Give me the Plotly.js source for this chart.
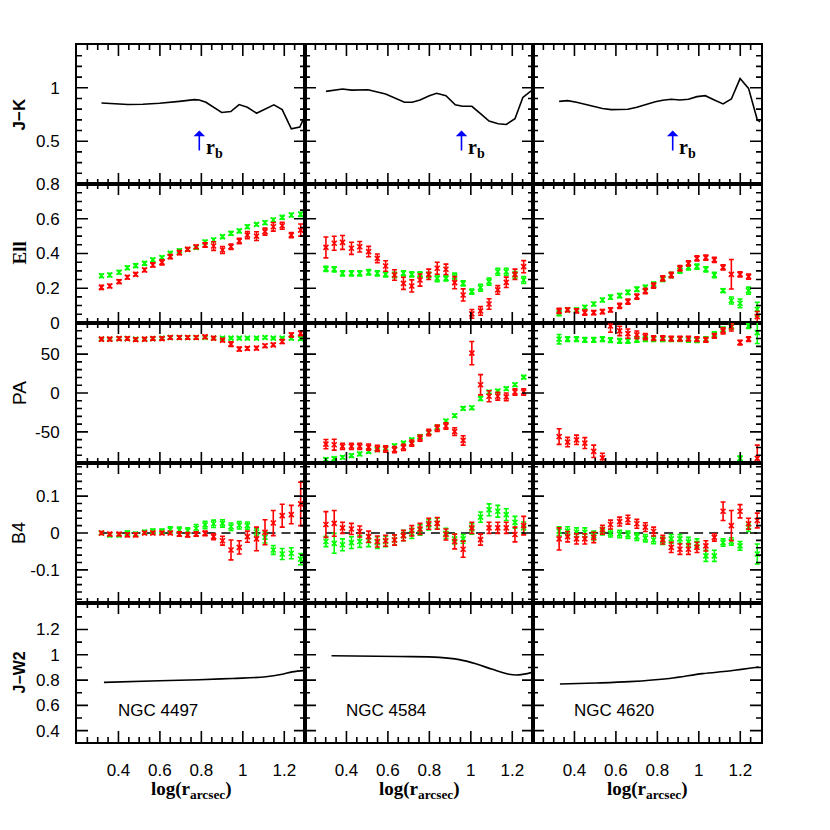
<!DOCTYPE html>
<html>
<head>
<meta charset="utf-8">
<script src="https://cdn.plot.ly/plotly-3.0.1.min.js"></script>
<style>
  body { margin: 0; background: #fff; }
  #chart { width: 830px; height: 830px; }
</style>
</head>
<body>
<div id="chart"></div>
<script>
// ---- labels ----
const rowTitles = ['J\u2212K', 'Ell', 'PA', 'B4', 'J\u2212W2'];
const galaxies = ['NGC 4497', 'NGC 4584', 'NGC 4620'];
const rbPos = [0.79, 0.955, 0.874];            // break radius, log(r)
const xTickVals = [0.4, 0.6, 0.8, 1, 1.2];
const xTickText = ['0.4', '0.6', '0.8', '1', '1.2'];
const yTickVals = [[0.5, 1], [0, 0.2, 0.4, 0.6, 0.8], [-50, 0, 50], [-0.1, 0, 0.1], [0.4, 0.6, 0.8, 1, 1.2]];
const yTickText = [['0.5', '1'], ['0', '0.2', '0.4', '0.6', '0.8'], ['-50', '0', '50'], ['-0.1', '0', '0.1'], ['0.4', '0.6', '0.8', '1', '1.2']];

// ---- isophote radii, log(r) ----
const xL = [0.318, 0.358, 0.403, 0.443, 0.483, 0.526, 0.566, 0.610, 0.650, 0.694, 0.734, 0.775, 0.818, 0.859, 0.902, 0.943, 0.983, 1.022, 1.066, 1.107, 1.147, 1.190, 1.234, 1.279];
const xM = [0.301, 0.341, 0.381, 0.424, 0.464, 0.507, 0.549, 0.589, 0.632, 0.675, 0.715, 0.755, 0.797, 0.838, 0.880, 0.922, 0.963, 1.005, 1.047, 1.088, 1.130, 1.171, 1.213, 1.255];
const xR = [0.326, 0.367, 0.410, 0.450, 0.493, 0.535, 0.574, 0.618, 0.658, 0.701, 0.742, 0.782, 0.826, 0.867, 0.909, 0.950, 0.991, 1.034, 1.075, 1.117, 1.157, 1.199, 1.240, 1.282];

// ---- J-K colour profiles ----
const jkXL = [0.318, 0.358, 0.446, 0.518, 0.598, 0.694, 0.766, 0.790, 0.822, 0.898, 0.942, 0.982, 1.022, 1.066, 1.150, 1.190, 1.234, 1.275, 1.298];
const jkL = [0.858, 0.855, 0.843, 0.846, 0.855, 0.873, 0.889, 0.886, 0.864, 0.769, 0.778, 0.843, 0.818, 0.762, 0.840, 0.796, 0.617, 0.633, 0.731];
const jkXM = [0.301, 0.381, 0.424, 0.504, 0.589, 0.640, 0.680, 0.717, 0.755, 0.800, 0.835, 0.880, 0.925, 0.960, 1.005, 1.048, 1.088, 1.132, 1.171, 1.213, 1.251, 1.291];
const jkM = [0.966, 0.988, 0.978, 0.981, 0.941, 0.901, 0.864, 0.864, 0.886, 0.926, 0.948, 0.926, 0.840, 0.827, 0.827, 0.756, 0.688, 0.664, 0.657, 0.710, 0.910, 0.972];
const jkXR = [0.326, 0.367, 0.410, 0.493, 0.535, 0.578, 0.658, 0.701, 0.742, 0.790, 0.826, 0.867, 0.909, 0.950, 0.991, 1.031, 1.075, 1.117, 1.157, 1.199, 1.240, 1.282, 1.295];
const jkR = [0.873, 0.880, 0.864, 0.827, 0.806, 0.796, 0.799, 0.818, 0.843, 0.870, 0.883, 0.892, 0.886, 0.892, 0.917, 0.926, 0.886, 0.849, 0.895, 1.086, 0.994, 0.701, 0.680];

// ---- ellipticity (green / red) ----
const ellGL = [0.272, 0.276, 0.292, 0.318, 0.330, 0.343, 0.363, 0.376, 0.401, 0.416, 0.424, 0.435, 0.466, 0.478, 0.497, 0.516, 0.530, 0.554, 0.568, 0.577, 0.593, 0.608, 0.622, 0.626];
const ellGLe = [0.01, 0.01, 0.01, 0.01, 0.01, 0.01, 0.01, 0.01, 0.01, 0.01, 0.008, 0.01, 0.01, 0.01, 0.01, 0.01, 0.01, 0.01, 0.008, 0.01, 0.01, 0.01, 0.01, 0.012];
const ellRL = [0.205, 0.213, 0.238, 0.263, 0.280, 0.305, 0.334, 0.349, 0.382, 0.405, 0.424, 0.439, 0.449, 0.443, 0.420, 0.439, 0.472, 0.506, 0.500, 0.526, 0.554, 0.560, 0.506, 0.535];
const ellRLe = [0.012, 0.01, 0.01, 0.01, 0.01, 0.01, 0.012, 0.015, 0.012, 0.012, 0.01, 0.01, 0.012, 0.025, 0.02, 0.015, 0.015, 0.02, 0.025, 0.02, 0.025, 0.02, 0.015, 0.035];
const ellGM = [0.311, 0.309, 0.286, 0.286, 0.286, 0.292, 0.286, 0.280, 0.276, 0.286, 0.280, 0.280, 0.276, 0.257, 0.257, 0.267, 0.228, 0.180, 0.203, 0.238, 0.295, 0.295, 0.276, 0.247];
const ellGMe = [0.015, 0.015, 0.015, 0.015, 0.015, 0.015, 0.015, 0.015, 0.015, 0.015, 0.015, 0.015, 0.015, 0.02, 0.015, 0.02, 0.015, 0.015, 0.02, 0.02, 0.02, 0.02, 0.02, 0.02];
const ellRM = [0.435, 0.459, 0.464, 0.430, 0.439, 0.411, 0.372, 0.328, 0.276, 0.228, 0.213, 0.247, 0.280, 0.315, 0.309, 0.232, 0.161, 0.052, 0.069, 0.109, 0.190, 0.234, 0.280, 0.324];
const ellRMe = [0.06, 0.04, 0.04, 0.035, 0.03, 0.03, 0.025, 0.03, 0.03, 0.035, 0.035, 0.035, 0.03, 0.035, 0.03, 0.035, 0.035, 0.025, 0.025, 0.03, 0.025, 0.03, 0.03, 0.035];
const ellGR = [0.056, 0.075, 0.075, 0.090, 0.109, 0.132, 0.148, 0.157, 0.176, 0.194, 0.205, 0.224, 0.251, 0.276, 0.301, 0.320, 0.324, 0.309, 0.276, 0.186, 0.129, 0.113, 0.186, 0.079];
const ellGRe = [0.015, 0.01, 0.01, 0.01, 0.01, 0.01, 0.012, 0.012, 0.012, 0.012, 0.012, 0.012, 0.012, 0.015, 0.015, 0.015, 0.015, 0.015, 0.015, 0.01, 0.02, 0.025, 0.02, 0.04];
const ellRR = [0.069, 0.075, 0.069, 0.059, 0.059, 0.065, 0.075, 0.098, 0.123, 0.152, 0.184, 0.215, 0.257, 0.276, 0.315, 0.343, 0.372, 0.376, 0.363, 0.320, 0.280, 0.280, 0.267, 0.036];
const ellRRe = [0.015, 0.01, 0.012, 0.015, 0.012, 0.012, 0.012, 0.015, 0.015, 0.015, 0.015, 0.015, 0.015, 0.015, 0.015, 0.015, 0.015, 0.015, 0.015, 0.015, 0.085, 0.015, 0.015, 0.03];

// ---- position angle ----
const paGL = [69.2, 69.2, 70.0, 70.0, 69.2, 69.2, 70.0, 70.5, 71.3, 71.3, 71.3, 71.3, 71.3, 70.5, 70.5, 70.5, 70.5, 70.5, 70.5, 71.3, 70.5, 70.5, 70.5, 70.0];
const paGLe = [1.5, 1.5, 1.5, 1.5, 1.5, 1.5, 1.5, 1.5, 1.5, 1.5, 1.5, 1.5, 1.5, 1.5, 1.5, 1.5, 1.5, 1.5, 1.5, 1.5, 1.5, 1.5, 2, 2];
const paRL = [69.2, 69.2, 70.0, 70.0, 68.7, 69.2, 70.0, 70.0, 71.3, 71.3, 71.3, 71.3, 72.1, 70.5, 67.9, 62.8, 56.5, 57.3, 57.7, 60.7, 61.9, 66.2, 74.7, 76.8];
const paRLe = [2, 2, 2, 2, 2, 2, 2, 2, 2, 2, 2, 2, 2, 2, 2, 3, 2.5, 2, 2, 2, 2, 2.5, 2.5, 3];
const paGM = [-85.6, -84.3, -82.6, -80.5, -78.4, -75.0, -72.9, -70.8, -67.8, -64.4, -60.2, -56.0, -50.8, -44.0, -36.0, -29.2, -19.8, -19.0, -7.1, 1.3, 2.5, 5.5, 10.6, 20.4];
const paGMe = [2, 2, 2, 2, 2, 2, 2, 2, 2, 2, 2, 2, 2, 2.5, 2, 2, 2, 2, 2.5, 2, 2, 2, 2, 2];
const paRM = [-65.7, -66.5, -68.6, -68.6, -68.6, -69.5, -71.2, -72.0, -72.9, -69.9, -64.4, -58.0, -50.8, -45.3, -42.4, -49.6, -61.0, 51.3, 10.6, -4.2, -4.2, -5.0, 1.3, 1.3];
const paRMe = [6, 7, 4, 4, 4, 4, 4, 4, 4, 4, 4, 4, 4, 4, 4, 5, 6, 15, 13, 7, 5, 5, 4, 4];
const paGR = [69.2, 69.2, 69.2, 68.3, 68.3, 69.2, 67.9, 67.1, 67.1, 68.3, 69.2, 69.2, 69.2, 69.2, 69.2, 68.3, 67.9, 69.2, 75.6, 81.9, 86.1, -84.0, 86.1, 77.6];
const paGRe = [6, 3, 3, 3, 3, 3, 3, 3, 3, 3, 3, 3, 3, 3, 3, 3, 3, 3, 3, 3, 4, 3, 3, 14];
const paRR = [-56.0, -63.1, -60.2, -64.4, -75.0, -83.5, 86.1, 79.8, 76.3, 74.7, 72.5, 70.5, 70.5, 70.0, 70.0, 70.0, 69.2, 68.3, 73.4, 79.8, 84.8, 64.9, 69.2, -84.0];
const paRRe = [10, 6, 6, 7, 8, 6, 8, 6, 6, 5, 4, 3, 3, 3, 3, 3, 3, 3, 3, 4, 5, 3, 3, 17];

// ---- B4 isophote shape ----
const b4GL = [0.000, -0.005, -0.005, 0.000, -0.003, 0.002, 0.005, 0.005, 0.009, 0.008, 0.006, 0.013, 0.022, 0.025, 0.026, 0.017, 0.021, 0.020, 0.002, -0.012, -0.046, -0.057, -0.055, -0.071];
const b4GLe = [0.004, 0.005, 0.005, 0.005, 0.005, 0.005, 0.006, 0.006, 0.008, 0.008, 0.008, 0.01, 0.01, 0.01, 0.01, 0.01, 0.01, 0.01, 0.01, 0.015, 0.012, 0.015, 0.015, 0.015];
const b4RL = [0.000, -0.003, -0.003, -0.005, -0.005, 0.000, 0.000, 0.000, 0.000, -0.003, -0.005, -0.003, -0.001, -0.010, -0.021, -0.046, -0.039, -0.010, -0.016, 0.002, 0.027, 0.047, 0.050, 0.079];
const b4RLe = [0.004, 0.004, 0.004, 0.005, 0.005, 0.004, 0.004, 0.004, 0.004, 0.006, 0.006, 0.006, 0.006, 0.008, 0.012, 0.027, 0.018, 0.015, 0.032, 0.034, 0.034, 0.031, 0.025, 0.059];
const b4GM = [-0.023, -0.028, -0.032, -0.026, -0.023, -0.021, -0.026, -0.023, -0.019, -0.007, -0.001, 0.008, 0.022, 0.026, -0.001, -0.016, -0.016, 0.011, 0.043, 0.063, 0.059, 0.050, 0.029, 0.014];
const b4GMe = [0.014, 0.027, 0.016, 0.016, 0.016, 0.016, 0.016, 0.014, 0.014, 0.014, 0.014, 0.014, 0.014, 0.014, 0.014, 0.014, 0.012, 0.014, 0.014, 0.016, 0.016, 0.016, 0.016, 0.016];
const b4RM = [0.023, 0.026, 0.014, 0.011, 0.004, -0.010, -0.023, -0.021, -0.019, -0.007, 0.006, 0.011, 0.025, 0.026, -0.004, -0.023, -0.044, 0.014, -0.018, 0.014, 0.014, 0.014, -0.004, 0.020];
const b4RMe = [0.035, 0.035, 0.015, 0.015, 0.015, 0.015, 0.015, 0.015, 0.014, 0.014, 0.014, 0.015, 0.015, 0.016, 0.015, 0.02, 0.022, 0.015, 0.015, 0.015, 0.015, 0.015, 0.02, 0.025];
const b4GR = [0.005, 0.005, 0.002, 0.002, -0.007, 0.005, -0.001, -0.003, -0.005, -0.010, -0.014, -0.019, -0.021, -0.016, -0.016, -0.024, -0.028, -0.062, -0.062, -0.026, -0.023, -0.035, 0.016, -0.057];
const b4GRe = [0.012, 0.012, 0.012, 0.012, 0.012, 0.01, 0.01, 0.01, 0.01, 0.01, 0.01, 0.01, 0.01, 0.012, 0.012, 0.012, 0.012, 0.015, 0.015, 0.01, 0.01, 0.012, 0.012, 0.027];
const b4RR = [-0.016, -0.010, -0.016, -0.016, -0.012, 0.009, 0.023, 0.031, 0.036, 0.025, 0.016, 0.004, -0.018, -0.039, -0.044, -0.044, -0.039, -0.035, -0.012, 0.059, 0.020, 0.059, 0.025, 0.034];
const b4RRe = [0.030, 0.014, 0.014, 0.014, 0.014, 0.012, 0.012, 0.012, 0.012, 0.012, 0.012, 0.012, 0.012, 0.014, 0.014, 0.014, 0.014, 0.014, 0.01, 0.025, 0.041, 0.018, 0.015, 0.02];

// ---- J-W2 colour profiles ----
const jwXL = [0.330, 0.598, 0.790, 0.950, 1.111, 1.190, 1.238, 1.298];
const jwL = [0.782, 0.795, 0.803, 0.813, 0.826, 0.846, 0.865, 0.877];
const jwXM = [0.328, 0.656, 0.848, 0.944, 1.024, 1.104, 1.184, 1.232, 1.291];
const jwM = [0.992, 0.987, 0.980, 0.962, 0.929, 0.885, 0.846, 0.841, 0.859];
const jwXR = [0.330, 0.506, 0.666, 0.858, 1.018, 1.146, 1.290];
const jwR = [0.769, 0.777, 0.788, 0.813, 0.851, 0.872, 0.903];

// ---- geometry (px in the 830x830 page) ----
const W = 830, H = 830;
const colPx = [[77, 305], [305, 533], [533, 761]];
const rowPx = [[45, 184], [184, 323], [323, 463], [463, 603], [603, 742]];
const xRange = [0.2, 1.3];
const xMinor = 0.05;
const yRanges = [[0.1, 1.4], [-0.0005, 0.8005], [-90, 90], [-0.19, 0.19], [0.31, 1.41]];
const yMinor = [0.1, 0.05, 10, 0.02, 0.1];
const MAJOR_LEN = 11, MINOR_LEN = 5;
const RED = '#ff0000', GREEN = '#00ff00';

const sfx = (r, c) => { const n = r * 3 + c + 1; return n === 1 ? '' : String(n); };

function line(x, y, r, c, shape) {
  return {
    type: 'scatter', mode: 'lines', x, y, xaxis: 'x' + sfx(r, c), yaxis: 'y' + sfx(r, c),
    line: { color: 'black', width: 1.6, shape: shape || 'linear' },
    hoverinfo: 'skip', showlegend: false
  };
}

function pts(x, y, err, color, r, c) {
  return {
    type: 'scatter', mode: 'markers', x, y, xaxis: 'x' + sfx(r, c), yaxis: 'y' + sfx(r, c),
    marker: { symbol: 'x-thin', size: 5, color, line: { color, width: 1.6 } },
    error_y: { type: 'data', array: err, visible: true, color, thickness: 1.6, width: 2.5 },
    cliponaxis: true, hoverinfo: 'skip', showlegend: false
  };
}

function zeroLine(x, r, c) {
  return {
    type: 'scatter', mode: 'lines', x: [x[0], x[x.length - 1]], y: [0, 0],
    xaxis: 'x' + sfx(r, c), yaxis: 'y' + sfx(r, c),
    line: { color: 'black', width: 1.5, dash: '9px,6px' },
    hoverinfo: 'skip', showlegend: false
  };
}

// inside tick marks on all four sides of a panel, as one path shape in axis units
function tickShape(r, c) {
  const yr = yRanges[r];
  const xPerPx = (xRange[1] - xRange[0]) / (colPx[c][1] - colPx[c][0]);
  const yPerPx = (yr[1] - yr[0]) / (rowPx[r][1] - rowPx[r][0]);
  const parts = [];
  const inside = (v, lo, hi, tol) => v > lo + tol && v < hi - tol;
  const near = (v, list, tol) => list.some(m => Math.abs(m - v) < tol);
  const addX = (v, len) => {
    parts.push('M' + v + ',' + yr[0] + 'L' + v + ',' + (yr[0] + len * yPerPx));
    parts.push('M' + v + ',' + yr[1] + 'L' + v + ',' + (yr[1] - len * yPerPx));
  };
  const addY = (v, len) => {
    parts.push('M' + xRange[0] + ',' + v + 'L' + (xRange[0] + len * xPerPx) + ',' + v);
    parts.push('M' + xRange[1] + ',' + v + 'L' + (xRange[1] - len * xPerPx) + ',' + v);
  };
  xTickVals.forEach(v => { if (inside(v, xRange[0], xRange[1], xPerPx)) addX(v, MAJOR_LEN); });
  for (let k = Math.ceil(xRange[0] / xMinor); k * xMinor <= xRange[1]; k++) {
    const v = +(k * xMinor).toFixed(6);
    if (inside(v, xRange[0], xRange[1], xPerPx) && !near(v, xTickVals, xMinor / 4)) addX(v, MINOR_LEN);
  }
  yTickVals[r].forEach(v => { if (inside(v, yr[0], yr[1], yPerPx)) addY(v, MAJOR_LEN); });
  for (let k = Math.ceil(yr[0] / yMinor[r]); k * yMinor[r] <= yr[1]; k++) {
    const v = +(k * yMinor[r]).toFixed(6);
    if (inside(v, yr[0], yr[1], yPerPx) && !near(v, yTickVals[r], yMinor[r] / 4)) addY(v, MINOR_LEN);
  }
  return {
    type: 'path', xref: 'x' + sfx(r, c), yref: 'y' + sfx(r, c), path: parts.join(''),
    line: { color: 'black', width: 1.6 }, layer: 'above'
  };
}

const cols = [
  { x: xL, jkX: jkXL, jk: jkL, eg: ellGL, ege: ellGLe, er: ellRL, ere: ellRLe, pg: paGL, pge: paGLe, pr: paRL, pre: paRLe,
    bg: b4GL, bge: b4GLe, br: b4RL, bre: b4RLe, jwX: jwXL, jw: jwL },
  { x: xM, jkX: jkXM, jk: jkM, eg: ellGM, ege: ellGMe, er: ellRM, ere: ellRMe, pg: paGM, pge: paGMe, pr: paRM, pre: paRMe,
    bg: b4GM, bge: b4GMe, br: b4RM, bre: b4RMe, jwX: jwXM, jw: jwM },
  { x: xR, jkX: jkXR, jk: jkR, eg: ellGR, ege: ellGRe, er: ellRR, ere: ellRRe, pg: paGR, pge: paGRe, pr: paRR, pre: paRRe,
    bg: b4GR, bge: b4GRe, br: b4RR, bre: b4RRe, jwX: jwXR, jw: jwR }
];

const traces = [];
cols.forEach((d, c) => {
  traces.push(line(d.jkX, d.jk, 0, c));
  traces.push(pts(d.x, d.eg, d.ege, GREEN, 1, c));
  traces.push(pts(d.x, d.er, d.ere, RED, 1, c));
  traces.push(pts(d.x, d.pg, d.pge, GREEN, 2, c));
  traces.push(pts(d.x, d.pr, d.pre, RED, 2, c));
  traces.push(zeroLine(d.x, 3, c));
  traces.push(pts(d.x, d.bg, d.bge, GREEN, 3, c));
  traces.push(pts(d.x, d.br, d.bre, RED, 3, c));
  traces.push(line(d.jwX, d.jw, 4, c, 'spline'));
});

const layout = {
  width: W, height: H,
  margin: { l: 0, r: 0, t: 0, b: 0 },
  paper_bgcolor: 'white', plot_bgcolor: 'white',
  showlegend: false,
  annotations: [],
  shapes: []
};

for (let r = 0; r < 5; r++) {
  for (let c = 0; c < 3; c++) {
    const s = sfx(r, c);
    const common = () => ({
      showline: true, linecolor: 'black', linewidth: 2, mirror: true, ticks: '',
      showgrid: false, zeroline: false, fixedrange: true, automargin: false,
      tickfont: { family: 'Liberation Sans', size: 17, color: 'black' }, ticklabelstandoff: 12
    });
    layout['xaxis' + s] = Object.assign(common(), {
      anchor: 'y' + s,
      domain: [colPx[c][0] / W, colPx[c][1] / W],
      range: xRange,
      tickmode: 'array', tickvals: xTickVals, ticktext: xTickText,
      showticklabels: r === 4
    });
    layout['yaxis' + s] = Object.assign(common(), {
      anchor: 'x' + s,
      domain: [1 - rowPx[r][1] / H, 1 - rowPx[r][0] / H],
      range: yRanges[r],
      tickmode: 'array', tickvals: yTickVals[r], ticktext: yTickText[r],
      showticklabels: c === 0
    });
    layout.shapes.push(tickShape(r, c));
  }
}

// row titles
const titleFonts = [
  { family: 'Liberation Sans', size: 17, weight: 'bold' },
  { family: 'Liberation Serif', size: 19, weight: 'bold' },
  { family: 'Liberation Sans', size: 19 },
  { family: 'Liberation Sans', size: 18 },
  { family: 'Liberation Sans', size: 16, weight: 'bold' }
];
rowTitles.forEach((t, r) => {
  layout.annotations.push({
    xref: 'paper', yref: 'paper', x: 19 / W, y: 1 - (rowPx[r][0] + rowPx[r][1]) / 2 / H,
    text: t, textangle: -90, showarrow: false, xanchor: 'center', yanchor: 'middle',
    font: Object.assign({ color: 'black' }, titleFonts[r])
  });
});

// x titles, galaxy names, break radius markers
for (let c = 0; c < 3; c++) {
  layout.annotations.push({
    xref: 'paper', yref: 'paper', x: (colPx[c][0] + colPx[c][1]) / 2 / W, y: 1 - 790 / H,
    text: '<b>log(r<sub>arcsec</sub>)</b>', showarrow: false, xanchor: 'center', yanchor: 'middle',
    font: { family: 'Liberation Serif', size: 19, color: 'black' }
  });
  const sb = sfx(4, c);
  layout.annotations.push({
    xref: 'x' + sb, yref: 'y' + sb, x: 0.39, y: 0.56, text: galaxies[c],
    showarrow: false, xanchor: 'left', yanchor: 'middle',
    font: { family: 'Liberation Sans', size: 17, color: 'black' }
  });
  const st = sfx(0, c);
  layout.annotations.push({
    xref: 'x' + st, yref: 'y' + st, x: rbPos[c], y: 0.60,
    axref: 'x' + st, ayref: 'y' + st, ax: rbPos[c], ay: 0.40,
    text: '', showarrow: true, arrowhead: 1, arrowsize: 1.2, arrowwidth: 1.6, arrowcolor: '#0000ff',
    standoff: 0, startstandoff: 0
  });
  layout.annotations.push({
    xref: 'x' + st, yref: 'y' + st, x: rbPos[c] + 0.022, y: 0.43,
    text: '<b>r<sub>b</sub></b>', showarrow: false, xanchor: 'left', yanchor: 'middle',
    font: { family: 'Liberation Serif', size: 20, color: 'black' }
  });
}

Plotly.newPlot('chart', traces, layout, { staticPlot: true, displayModeBar: false });
</script>
</body>
</html>
